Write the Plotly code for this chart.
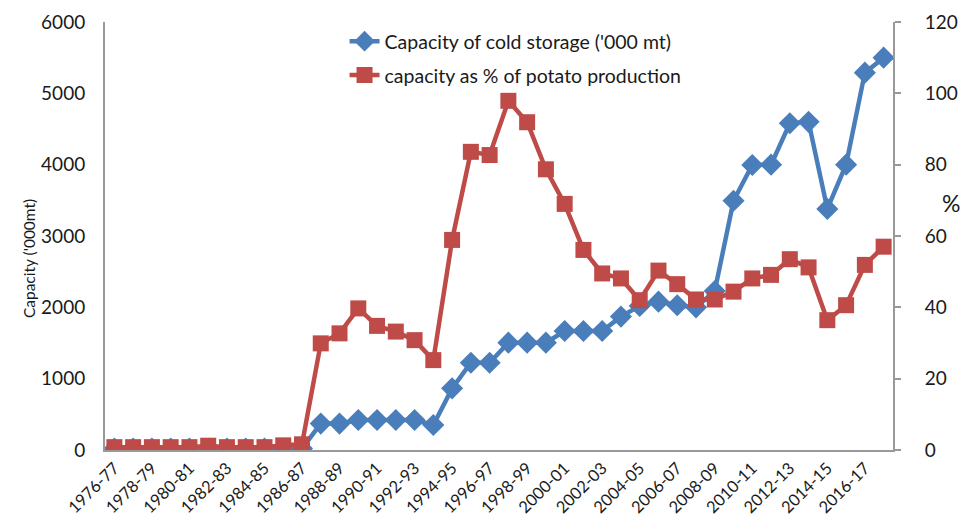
import plotly.graph_objects as go

years = [f"{y}-{str(y+1)[-2:]}" for y in range(1976, 2018)]

capacity = [20, 20, 20, 20, 20, 20, 20, 20, 20, 20, 20,
            370, 370, 420, 420, 420, 420, 350,
            864, 1224, 1224, 1505, 1505, 1505, 1668, 1668, 1668,
            1870, 2020, 2080, 2030, 2000, 2230,
            3495, 3995, 4000, 4580, 4600, 3380, 4000, 5290, 5500]

pct_prod = [0.8, 0.8, 0.8, 0.8, 0.8, 1.2, 0.8, 0.8, 0.8, 1.3, 1.6,
            29.9, 32.7, 39.7, 34.8, 33.2, 30.8, 25.2,
            58.9, 83.6, 82.7, 97.9, 91.9, 78.7, 69.0, 56.1, 49.5,
            48.1, 42.0, 50.3, 46.5, 42.2, 42.2,
            44.4, 48.1, 49.1, 53.5, 51.2, 36.4, 40.6, 51.9, 57.0]

tick_labels = years[::2]

font_family = "Lato, 'Liberation Sans', sans-serif"
txt = "#1a1a1a"

fig = go.Figure()
fig.add_trace(go.Scatter(
    x=years, y=capacity, name="Capacity of cold storage ('000 mt)",
    mode="lines+markers",
    line=dict(color="#4a7ebb", width=4.5),
    marker=dict(symbol="diamond", size=17, color="#4a7ebb"),
    yaxis="y", legend="legend"))
fig.add_trace(go.Scatter(
    x=years, y=pct_prod, name="capacity as % of potato production",
    mode="lines+markers",
    line=dict(color="#be4b48", width=4.5),
    marker=dict(symbol="square", size=16, color="#be4b48"),
    yaxis="y2", legend="legend2"))

leg_common = dict(xanchor="left", yanchor="top", bgcolor="rgba(0,0,0,0)",
                  font=dict(size=19.5, family=font_family, color=txt))

fig.update_layout(
    width=959, height=514,
    margin=dict(l=97, r=74, t=14, b=72),
    paper_bgcolor="white", plot_bgcolor="white",
    font=dict(family=font_family, size=19, color=txt),
    showlegend=True,
    legend=dict(x=0.304, y=1.0, **leg_common),
    legend2=dict(x=0.304, y=0.921, **leg_common),
    xaxis=dict(type="category", categoryorder="array", categoryarray=years,
               tickmode="array", tickvals=tick_labels, ticktext=tick_labels,
               tickangle=-45, showgrid=False, showline=True,
               linecolor="#999999", linewidth=2, ticks="",
               range=[-0.5, len(years) - 0.5], automargin=False,
               tickfont=dict(size=16.5)),
    yaxis=dict(range=[0, 6000], dtick=1000, showgrid=False, showline=True,
               linecolor="#999999", linewidth=2, ticks="", zeroline=False,
               tickfont=dict(size=19), ticklabelstandoff=14, automargin=False),
    yaxis2=dict(range=[0, 120], dtick=20, overlaying="y", side="right",
                showgrid=False, showline=True, linecolor="#999999", linewidth=2,
                ticks="outside", ticklen=6, tickcolor="#999999", tickwidth=2,
                zeroline=False, tickfont=dict(size=19), ticklabelstandoff=20,
                automargin=False),
)

fig.add_annotation(text="Capacity ('000mt)", xref="paper", yref="paper",
                   x=-0.1104, y=0.446, textangle=-90, showarrow=False,
                   font=dict(size=15.5, family=font_family, color=txt))
fig.add_annotation(text="%", xref="paper", yref="paper", x=1.0876, y=0.577,
                   showarrow=False, font=dict(size=23, family=font_family, color=txt))

fig.write_html("out.html")
